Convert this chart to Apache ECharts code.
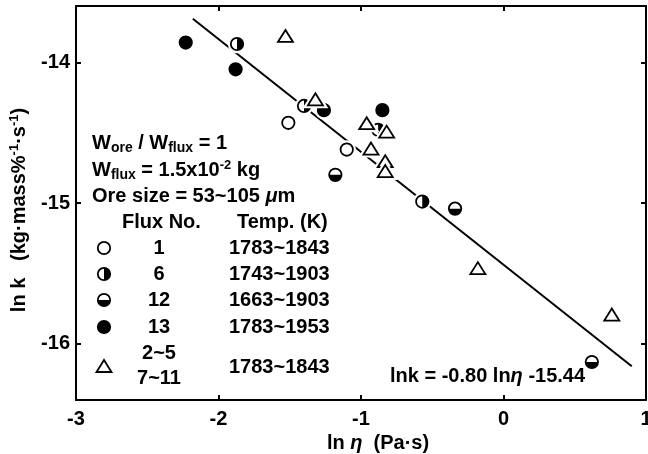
<!DOCTYPE html>
<html><head><meta charset="utf-8">
<script src="https://cdn.jsdelivr.net/npm/echarts@6/dist/echarts.min.js"></script>
<style>html,body{margin:0;padding:0;background:#fff}#c{width:648px;height:454px}</style>
</head><body><div id="c"></div>
<script>
// ---- data ----
const xTicks = [-3, -2, -1, 0, 1];
const yTicks = [-16, -15, -14];
const flux1  = [[-1.51, -14.43], [-1.10, -14.62]];
const flux6  = [[-1.87, -13.87], [-1.40, -14.31], [-0.88, -14.48], [-0.57, -14.99]];
const flux12 = [[-1.18, -14.80], [-0.34, -15.04], [0.62, -16.13]];
const flux13 = [[-2.23, -13.86], [-1.88, -14.05], [-1.26, -14.34], [-0.85, -14.34]];
const fluxTri = [[-1.53, -13.82], [-1.32, -14.27], [-0.96, -14.44], [-0.82, -14.50], [-0.93, -14.62],
                 [-0.83, -14.71], [-0.83, -14.78], [-0.18, -15.47], [0.76, -15.80]];
const fitLine = [[-2.18, -13.69], [0.90, -16.16]];
const legendRows = [
  {kind: 'open',   no: '1',  temp: '1783~1843'},
  {kind: 'right',  no: '6',  temp: '1743~1903'},
  {kind: 'bottom', no: '12', temp: '1663~1903'},
  {kind: 'full',   no: '13', temp: '1783~1953'}
];

const FONT = '"Liberation Sans", Arial, sans-serif';
const FW = 'bold';

function markerShapes(kind, x, y) {
  const r = 6.2, lw = 1.8;
  if (kind === 'tri') {
    const pts = [[x, y - 7], [x - 7.5, y + 5], [x + 7.5, y + 5]];
    return [
      {type: 'polygon', shape: {points: pts}, style: {fill: '#fff', stroke: '#fff', lineWidth: 6}},
      {type: 'polygon', shape: {points: pts}, style: {fill: '#fff', stroke: '#000', lineWidth: lw}}
    ];
  }
  const out = [
    {type: 'circle', shape: {cx: x, cy: y, r: r + 3}, style: {fill: '#fff'}},
    {type: 'circle', shape: {cx: x, cy: y, r: r}, style: {fill: kind === 'full' ? '#000' : '#fff', stroke: '#000', lineWidth: lw}}
  ];
  if (kind === 'right') out.push({type: 'sector', shape: {cx: x, cy: y, r0: 0, r: r, startAngle: -Math.PI / 2, endAngle: Math.PI / 2, clockwise: true}, style: {fill: '#000'}});
  if (kind === 'bottom') out.push({type: 'sector', shape: {cx: x, cy: y, r0: 0, r: r, startAngle: 0, endAngle: Math.PI, clockwise: true}, style: {fill: '#000'}});
  return out;
}
function markerSeries(kind, data) {
  return {
    type: 'custom', data: data, clip: false, z: 5,
    encode: {x: 0, y: 1},
    renderItem: function (params, api) {
      const p = api.coord([api.value(0), api.value(1)]);
      return {type: 'group', children: markerShapes(kind, p[0], p[1])};
    }
  };
}

const txt = {fontFamily: FONT, fontSize: 20, fontWeight: FW, fill: '#000'};
const rich = {
  n: {fontFamily: FONT, fontSize: 20, fontWeight: FW, color: '#000'},
  sub: {fontFamily: FONT, fontSize: 14, fontWeight: FW, color: '#000', padding: [10, 0, 0, 0]},
  sup: {fontFamily: FONT, fontSize: 13, fontWeight: FW, color: '#000', padding: [0, 0, 10, 0]},
  it: {fontFamily: FONT, fontSize: 20, fontWeight: FW, fontStyle: 'italic', color: '#000'}
};
function textEl(x, y, text, align) {
  return {type: 'text', x: x, y: y, style: Object.assign({text: text, align: align || 'left', verticalAlign: 'middle', rich: rich}, txt), z: 10};
}

const graphics = [];
graphics.push(textEl(92, 143, '{n|W}{sub|ore}{n| / W}{sub|flux}{n| = 1}'));
graphics.push(textEl(92, 170, '{n|W}{sub|flux}{n| = 1.5x10}{sup|-2}{n| kg}'));
graphics.push(textEl(92, 196, '{n|Ore size = 53~105 }{it|μ}{n|m}'));
graphics.push(textEl(122, 222, 'Flux No.'));
graphics.push(textEl(237, 222, 'Temp. (K)'));
const rowY = [248, 274, 300, 327];
legendRows.forEach(function (row, i) {
  graphics.push({type: 'group', children: markerShapes(row.kind, 104, rowY[i])});
  graphics.push(textEl(159, rowY[i], row.no, 'center'));
  graphics.push(textEl(229, rowY[i], row.temp));
});
graphics.push({type: 'group', children: markerShapes('tri', 104, 367)});
graphics.push(textEl(159, 353, '2~5', 'center'));
graphics.push(textEl(159, 378, '7~11', 'center'));
graphics.push(textEl(229, 367, '1783~1843'));
graphics.push(textEl(390, 376, '{n|lnk = -0.80 ln}{it|η}{n| -15.44}'));

const axisCommon = {
  type: 'value',
  axisLine: {show: true, onZero: false, lineStyle: {color: '#000', width: 2}},
  axisTick: {show: true, inside: true, length: 5, lineStyle: {color: '#000', width: 2}},
  splitLine: {show: false},
  axisLabel: {fontFamily: FONT, fontSize: 20, fontWeight: FW, color: '#000'}
};

const option = {
  backgroundColor: '#fff',
  animation: false,
  grid: {left: 76, right: 2, top: 6, bottom: 54, containLabel: false, outerBoundsMode: 'none'},
  xAxis: [
    Object.assign({}, axisCommon, {
      min: -3, max: 1, interval: 1, position: 'bottom',
      axisLabel: Object.assign({}, axisCommon.axisLabel, {margin: 9, customValues: xTicks}),
      axisTick: Object.assign({}, axisCommon.axisTick, {customValues: xTicks}),
      name: '{n|ln }{it|η}{n|  (Pa·s)}', nameLocation: 'middle', nameGap: 33,
      nameTextStyle: {rich: rich, padding: [0, 0, 0, 34]}
    }),
    Object.assign({}, axisCommon, {
      min: -3, max: 1, interval: 1, position: 'top',
      axisLabel: {show: false},
      axisTick: Object.assign({}, axisCommon.axisTick, {customValues: xTicks})
    })
  ],
  yAxis: [
    Object.assign({}, axisCommon, {
      min: -16.4, max: -13.6, position: 'left',
      axisLabel: Object.assign({}, axisCommon.axisLabel, {margin: 6, customValues: yTicks}),
      axisTick: Object.assign({}, axisCommon.axisTick, {customValues: yTicks}),
      name: '{n|ln k   (kg·mass%}{sup|-1}{n|·s}{sup|-1}{n|)}', nameLocation: 'middle', nameGap: 45,
      nameRotate: 90,
      nameTextStyle: {rich: rich, padding: [0, 14, 0, 0]}
    }),
    Object.assign({}, axisCommon, {
      min: -16.4, max: -13.6, position: 'right',
      axisLabel: {show: false},
      axisTick: Object.assign({}, axisCommon.axisTick, {customValues: yTicks})
    })
  ],
  series: [
    {type: 'line', data: fitLine, symbol: 'none', lineStyle: {color: '#000', width: 2}, z: 2, silent: true},
    markerSeries('open', flux1),
    markerSeries('right', flux6),
    markerSeries('bottom', flux12),
    markerSeries('full', flux13),
    markerSeries('tri', fluxTri)
  ],
  graphic: {elements: graphics}
};

const chart = echarts.init(document.getElementById('c'), null, {renderer: 'canvas'});
chart.setOption(option);
</script></body></html>
